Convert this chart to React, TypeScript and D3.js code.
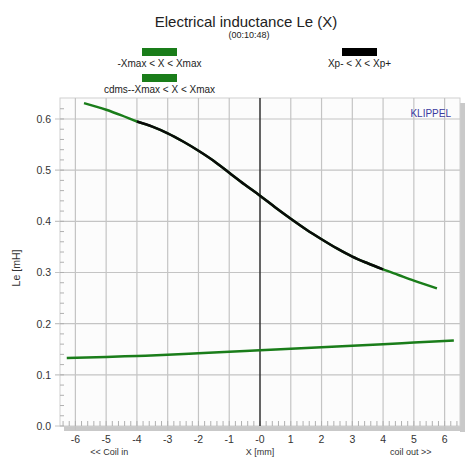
import React, { useEffect, useRef } from "react";
import * as d3 from "d3";

// Le(X) main curve, -Xmax < X < Xmax
const xmaxX = [-5.72, -5, -4.5, -4, -3.5, -3, -2.5, -2, -1.5, -1, -0.5, 0, 0.5, 1, 1.5, 2, 2.5, 3, 3.5, 4, 4.5, 5, 5.75];
const xmaxLe = [0.631, 0.618, 0.607, 0.595, 0.585, 0.572, 0.556, 0.538, 0.518, 0.495, 0.472, 0.45, 0.427, 0.405, 0.384, 0.365, 0.347, 0.331, 0.318, 0.306, 0.295, 0.284, 0.269];
// range Xp- < X < Xp+ (black overlay)
const xpRange = [-4, 4];
// cdms curve
const cdmsX = [-6.28, -5, -4, -3, -2, -1, 0, 1, 2, 3, 4, 5, 6.3];
const cdmsLe = [0.133, 0.135, 0.137, 0.139, 0.142, 0.145, 0.148, 0.151, 0.154, 0.157, 0.16, 0.163, 0.167];

const xTicks = [-6, -5, -4, -3, -2, -1, 0, 1, 2, 3, 4, 5, 6];
const yTicks = [0, 0.1, 0.2, 0.3, 0.4, 0.5, 0.6];

const GREEN = "#1a7d1a";
const FONT = "Liberation Sans, Arial, sans-serif";

export default function App() {
  const ref = useRef<SVGSVGElement>(null);

  useEffect(() => {
    const width = 472;
    const height = 458;
    const svg = d3.select(ref.current).attr("width", width).attr("height", height);
    svg.selectAll("*").remove();

    const left = 60, right = 460, top = 98, bottom = 426;
    const x = d3.scaleLinear().domain([-6.5, 6.5]).range([left, right]);
    const y = d3.scaleLinear().domain([0, 0.641]).range([bottom, top]);

    svg.append("rect").attr("width", width).attr("height", height).attr("fill", "#ffffff");

    // shadow
    svg.append("rect").attr("x", right).attr("y", top + 5).attr("width", 5).attr("height", bottom - top + 1).attr("fill", "#c9c9c9");
    svg.append("rect").attr("x", left + 4).attr("y", bottom).attr("width", right - left + 1).attr("height", 5).attr("fill", "#c9c9c9");

    // plot area
    svg.append("rect").attr("x", left).attr("y", top).attr("width", right - left).attr("height", bottom - top)
      .attr("fill", "#fcfcfc").attr("stroke", "#cfcfcf");

    // grid
    svg.append("g").selectAll("line").data(xTicks.filter((d) => d !== 0)).join("line")
      .attr("x1", (d) => x(d)).attr("x2", (d) => x(d)).attr("y1", top).attr("y2", bottom + 4)
      .attr("stroke", "#c4c4c4").attr("stroke-width", 1.2);
    svg.append("g").selectAll("line").data(yTicks.slice(1)).join("line")
      .attr("x1", left - 5).attr("x2", right).attr("y1", (d) => y(d)).attr("y2", (d) => y(d))
      .attr("stroke", "#c4c4c4").attr("stroke-width", 1.2);
    svg.append("line").attr("x1", left - 5).attr("x2", left).attr("y1", y(0)).attr("y2", y(0)).attr("stroke", "#c4c4c4");

    // minor ticks
    const yMinor = d3.range(0, 0.64, 0.02);
    svg.append("g").selectAll("line").data(yMinor).join("line")
      .attr("x1", left).attr("x2", left + 4).attr("y1", (d) => y(d)).attr("y2", (d) => y(d))
      .attr("stroke", "#b0b0b0");
    const xMinor = d3.range(-6.4, 6.5, 0.2);
    svg.append("g").selectAll("line").data(xMinor).join("line")
      .attr("x1", (d) => x(d)).attr("x2", (d) => x(d)).attr("y1", bottom).attr("y2", bottom - 5)
      .attr("stroke", "#b0b0b0");

    // zero line
    svg.append("line").attr("x1", x(0)).attr("x2", x(0)).attr("y1", top).attr("y2", bottom)
      .attr("stroke", "#333").attr("stroke-width", 1.5);

    // tick labels
    svg.append("g").selectAll("text").data(yTicks).join("text")
      .attr("x", left - 9).attr("y", (d) => y(d) + 4).attr("text-anchor", "end")
      .attr("font-family", FONT).attr("font-size", 10.5).attr("fill", "#333")
      .text((d) => d3.format(".1f")(d));
    svg.append("g").selectAll("text").data(xTicks).join("text")
      .attr("x", (d) => x(d)).attr("y", bottom + 17).attr("text-anchor", "middle")
      .attr("font-family", FONT).attr("font-size", 10.5).attr("fill", "#333")
      .text((d) => (d === 0 ? "-0" : String(d)));

    const line = d3.line<[number, number]>().x((d) => x(d[0])).y((d) => y(d[1])).curve(d3.curveMonotoneX);

    const main: [number, number][] = xmaxX.map((v, i) => [v, xmaxLe[i]]);
    const cdms: [number, number][] = cdmsX.map((v, i) => [v, cdmsLe[i]]);
    const xp = main.filter((d) => d[0] >= xpRange[0] && d[0] <= xpRange[1]);

    svg.append("path").datum(cdms).attr("d", line).attr("fill", "none").attr("stroke", GREEN).attr("stroke-width", 2.5);
    svg.append("path").datum(main).attr("d", line).attr("fill", "none").attr("stroke", GREEN).attr("stroke-width", 2.5);
    svg.append("path").datum(xp).attr("d", line).attr("fill", "none").attr("stroke", "#0a0a0a").attr("stroke-width", 2.5);

    // KLIPPEL
    svg.append("text").attr("x", 451).attr("y", 117).attr("text-anchor", "end")
      .attr("font-family", FONT).attr("font-size", 10).attr("fill", "#3a3aa0").text("KLIPPEL");

    // axis titles
    svg.append("text").attr("transform", `translate(20,${268}) rotate(-90)`).attr("text-anchor", "middle")
      .attr("font-family", FONT).attr("font-size", 10.5).attr("fill", "#333").text("Le [mH]");
    svg.append("g").selectAll("text")
      .data([[-4.9, "<< Coil in"], [0, "X [mm]"], [4.9, "coil out >>"]] as [number, string][])
      .join("text")
      .attr("x", (d) => x(d[0])).attr("y", 455).attr("text-anchor", "middle")
      .attr("font-family", FONT).attr("font-size", 9).attr("fill", "#333").text((d) => d[1]);

    // title
    svg.append("text").attr("x", 246).attr("y", 27).attr("text-anchor", "middle")
      .attr("font-family", FONT).attr("font-size", 15).attr("fill", "#222").text("Electrical inductance Le (X)");
    svg.append("text").attr("x", 249).attr("y", 38).attr("text-anchor", "middle")
      .attr("font-family", FONT).attr("font-size", 9).attr("fill", "#222").text("(00:10:48)");

    // legend
    const lg = [
      { cx: 159.5, y: 48, color: GREEN, label: "-Xmax < X < Xmax" },
      { cx: 159.5, y: 74, color: GREEN, label: "cdms--Xmax < X < Xmax" },
      { cx: 359.5, y: 48, color: "#000", label: "Xp- < X < Xp+" },
    ];
    const g = svg.append("g");
    g.selectAll("rect").data(lg).join("rect")
      .attr("x", (d) => d.cx - 17.5).attr("y", (d) => d.y).attr("width", 35).attr("height", 8).attr("fill", (d) => d.color);
    g.selectAll("text").data(lg).join("text")
      .attr("x", (d) => d.cx).attr("y", (d) => d.y + 19).attr("text-anchor", "middle")
      .attr("font-family", FONT).attr("font-size", 10).attr("fill", "#222").text((d) => d.label);
  }, []);

  return <svg ref={ref} style={{ position: "absolute", left: 0, top: 0, display: "block" }} />;
}
